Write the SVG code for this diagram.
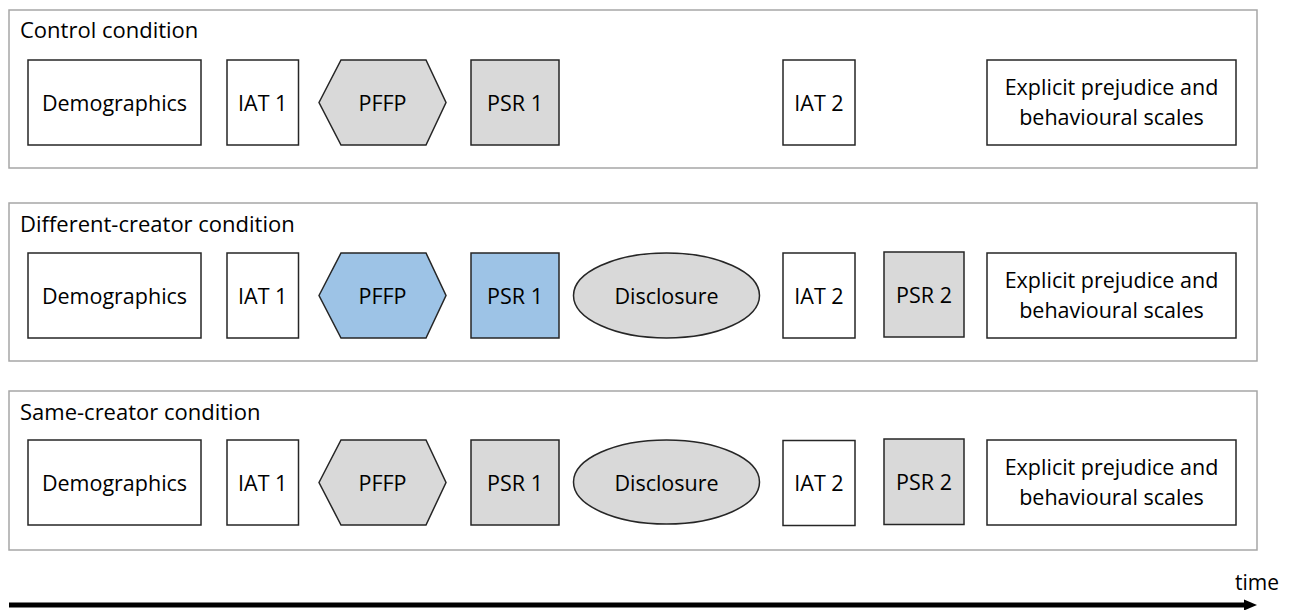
<svg xmlns="http://www.w3.org/2000/svg" width="1297" height="610" viewBox="0 0 1297 610">
<style>
text{font-family:"Open Sans","Liberation Sans",sans-serif;fill:#000}
.title{font-size:22px}
.lbl{font-size:21.5px;text-anchor:middle}
.panel{fill:#fff;stroke:#a6a6a6;stroke-width:1.5}
.w{fill:#fff;stroke:#262626;stroke-width:1.5}
.g{fill:#d9d9d9;stroke:#262626;stroke-width:1.5}
.b{fill:#9dc3e6;stroke:#262626;stroke-width:1.5}
</style>
<rect width="1297" height="610" fill="#fff"/>

<!-- Control condition -->
<g id="panel-control">
<rect class="panel" x="9" y="10" width="1248" height="158"/>
<text class="title" x="20" y="38">Control condition</text>
</g>
<g id="c-demographics"><rect class="w" x="28" y="60" width="173" height="85"/><text class="lbl" x="114.5" y="111">Demographics</text></g>
<g id="c-iat1"><rect class="w" x="227" y="60" width="71.5" height="85"/><text class="lbl" x="262.7" y="111">IAT 1</text></g>
<g id="c-pffp"><polygon class="g" points="319,102.5 341,60 426,60 446,102.5 426,145 341,145"/><text class="lbl" x="382.5" y="111">PFFP</text></g>
<g id="c-psr1"><rect class="g" x="471" y="60" width="88" height="85"/><text class="lbl" x="515" y="111">PSR 1</text></g>
<g id="c-iat2"><rect class="w" x="783" y="60" width="72" height="85"/><text class="lbl" x="819" y="111">IAT 2</text></g>
<g id="c-explicit"><rect class="w" x="987" y="60" width="249" height="85"/><text class="lbl" x="1111.5" y="95">Explicit prejudice and</text><text class="lbl" x="1111.5" y="124.5">behavioural scales</text></g>

<!-- Different-creator condition -->
<g id="panel-different">
<rect class="panel" x="9" y="203" width="1248" height="158"/>
<text class="title" x="20" y="231.5">Different-creator condition</text>
</g>
<g id="d-demographics"><rect class="w" x="28" y="253" width="173" height="85"/><text class="lbl" x="114.5" y="304">Demographics</text></g>
<g id="d-iat1"><rect class="w" x="227" y="253" width="71.5" height="85"/><text class="lbl" x="262.7" y="304">IAT 1</text></g>
<g id="d-pffp"><polygon class="b" points="319,295.5 341,253 426,253 446,295.5 426,338 341,338"/><text class="lbl" x="382.5" y="304">PFFP</text></g>
<g id="d-psr1"><rect class="b" x="471" y="253" width="88" height="85"/><text class="lbl" x="515" y="304">PSR 1</text></g>
<g id="d-disclosure"><ellipse class="g" cx="666.5" cy="295.5" rx="93" ry="42.5"/><text class="lbl" x="666.5" y="304">Disclosure</text></g>
<g id="d-iat2"><rect class="w" x="783" y="253" width="72" height="85"/><text class="lbl" x="819" y="304">IAT 2</text></g>
<g id="d-psr2"><rect class="g" x="884" y="252" width="80" height="85"/><text class="lbl" x="924" y="303">PSR 2</text></g>
<g id="d-explicit"><rect class="w" x="987" y="253" width="249" height="85"/><text class="lbl" x="1111.5" y="288">Explicit prejudice and</text><text class="lbl" x="1111.5" y="317.5">behavioural scales</text></g>

<!-- Same-creator condition -->
<g id="panel-same">
<rect class="panel" x="9" y="391" width="1248" height="159"/>
<text class="title" x="20" y="420">Same-creator condition</text>
</g>
<g id="s-demographics"><rect class="w" x="28" y="440" width="173" height="85"/><text class="lbl" x="114.5" y="491">Demographics</text></g>
<g id="s-iat1"><rect class="w" x="227" y="440" width="71.5" height="85"/><text class="lbl" x="262.7" y="491">IAT 1</text></g>
<g id="s-pffp"><polygon class="g" points="319,482.5 341,440 426,440 446,482.5 426,525 341,525"/><text class="lbl" x="382.5" y="491">PFFP</text></g>
<g id="s-psr1"><rect class="g" x="471" y="440" width="88" height="85"/><text class="lbl" x="515" y="491">PSR 1</text></g>
<g id="s-disclosure"><ellipse class="g" cx="666.5" cy="482" rx="93" ry="42"/><text class="lbl" x="666.5" y="491">Disclosure</text></g>
<g id="s-iat2"><rect class="w" x="783" y="440.5" width="72" height="85"/><text class="lbl" x="819" y="491">IAT 2</text></g>
<g id="s-psr2"><rect class="g" x="884" y="439" width="80" height="85.5"/><text class="lbl" x="924" y="490">PSR 2</text></g>
<g id="s-explicit"><rect class="w" x="987" y="440" width="249" height="85"/><text class="lbl" x="1111.5" y="475">Explicit prejudice and</text><text class="lbl" x="1111.5" y="504.5">behavioural scales</text></g>

<!-- Time axis -->
<g id="connectors">
<line x1="9" y1="605" x2="1246" y2="605" stroke="#000" stroke-width="5"/>
<polygon points="1244,599.5 1257,605 1244,610.5" fill="#000"/>
</g>
<text x="1235" y="590" style="font-size:21px">time</text>
</svg>
